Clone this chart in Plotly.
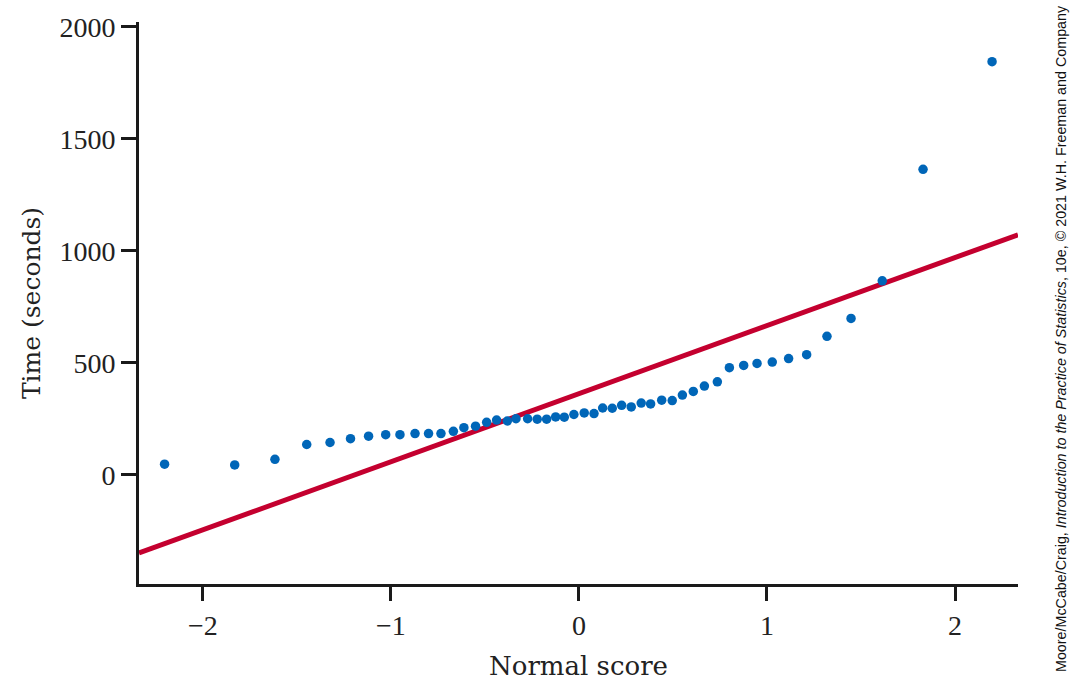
import plotly.graph_objects as go

# Normal scores (x) and times in seconds (y)
normal_score = [-2.204, -1.831, -1.617, -1.448, -1.324, -1.215, -1.119, -1.028, -0.952, -0.872,
                -0.800, -0.734, -0.668, -0.612, -0.550, -0.491, -0.438, -0.381, -0.335, -0.273,
                -0.222, -0.172, -0.124, -0.078, -0.027, 0.028, 0.080, 0.126, 0.177, 0.227,
                0.278, 0.331, 0.381, 0.440, 0.496, 0.550, 0.608, 0.667, 0.736, 0.800,
                0.876, 0.947, 1.028, 1.115, 1.211, 1.319, 1.447, 1.613, 1.830, 2.197]
time_sec = [47, 44, 69, 135, 144, 161, 172, 179, 179, 184,
            184, 184, 194, 210, 217, 234, 244, 240, 250, 250,
            248, 248, 258, 257, 269, 276, 273, 298, 297, 310,
            303, 320, 316, 333, 331, 356, 372, 396, 415, 478,
            488, 497, 503, 519, 536, 618, 698, 866, 1364, 1845]

# Reference line: time = intercept + slope * normal score
line_intercept = 362
line_slope = 304

x_range = [-2.34, 2.335]
y_range = [-488, 2022]
x_ticks = [-2, -1, 0, 1, 2]
x_tick_labels = ["\u22122", "\u22121", "0", "1", "2"]
y_ticks = [0, 500, 1000, 1500, 2000]

line_x = x_range
line_y = [line_intercept + line_slope * v for v in line_x]

fig = go.Figure()
fig.add_trace(go.Scatter(x=line_x, y=line_y, mode="lines",
                         line=dict(color="#c4002f", width=5), hoverinfo="skip"))
fig.add_trace(go.Scatter(x=normal_score, y=time_sec, mode="markers",
                         marker=dict(color="#0066b8", size=9.5)))

serif = "Liberation Serif, Times New Roman, serif"
title_serif = "DejaVu Serif, serif"
fig.update_layout(
    width=1073, height=691,
    margin=dict(l=139, r=55, t=15, b=107),
    plot_bgcolor="white", paper_bgcolor="white",
    showlegend=False,
    font=dict(family=serif, color="#222222", size=24),
    xaxis=dict(range=x_range, tickvals=x_ticks, ticktext=x_tick_labels,
               showgrid=False, zeroline=False, showline=True, linecolor="#1a1a1a", linewidth=3,
               ticks="outside", ticklen=14, tickwidth=3, tickcolor="#1a1a1a",
               tickfont=dict(family=serif, size=28, color="#222222"),
               title=dict(text="Normal score", font=dict(family=title_serif, size=26, color="#222222"),
                          standoff=18)),
    yaxis=dict(range=y_range, tickvals=y_ticks,
               showgrid=False, zeroline=False, showline=True, linecolor="#1a1a1a", linewidth=3,
               ticks="outside", ticklen=15, tickwidth=3, tickcolor="#1a1a1a",
               tickfont=dict(family=serif, size=28, color="#222222"),
               title=dict(text="Time (seconds)", font=dict(family=title_serif, size=25, color="#222222"),
                          standoff=12)),
)

fig.add_annotation(
    text="Moore/McCabe/Craig, <i>Introduction to the Practice of Statistics</i>, 10e, \u00a9 2021 W.H. Freeman and Company",
    xref="paper", yref="paper", x=1.0, y=0.5, xshift=43, yshift=-36,
    textangle=-90, showarrow=False, xanchor="center", yanchor="middle",
    font=dict(family="Liberation Sans Narrow, Arial Narrow, Liberation Sans, sans-serif", size=14.3, color="#111111"),
)

fig.write_html("out.html", config={"displayModeBar": False},
               post_script="document.body.style.margin='0';document.body.style.overflow='hidden';")
